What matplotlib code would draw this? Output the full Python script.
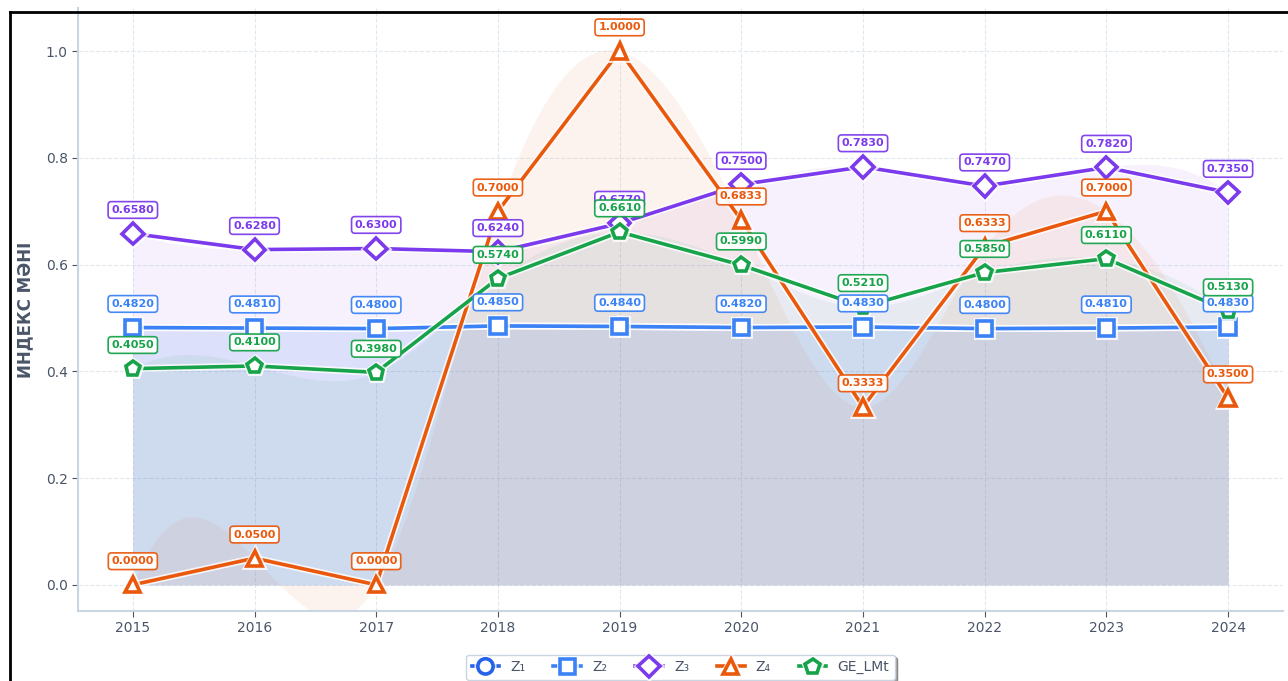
import numpy as np
import matplotlib
matplotlib.use('Agg')
import matplotlib.pyplot as plt
import matplotlib.patheffects as pe
from matplotlib.lines import Line2D

years = [2015, 2016, 2017, 2018, 2019, 2020, 2021, 2022, 2023, 2024]
z1 = [0.482, 0.481, 0.480, 0.485, 0.484, 0.482, 0.483, 0.480, 0.481, 0.483]
z2 = [0.482, 0.481, 0.480, 0.485, 0.484, 0.482, 0.483, 0.480, 0.481, 0.483]
z3 = [0.658, 0.628, 0.630, 0.624, 0.677, 0.750, 0.783, 0.747, 0.782, 0.735]
z4 = [0.0, 0.05, 0.0, 0.70, 1.0, 0.6833, 0.3333, 0.6333, 0.70, 0.35]
ge = [0.405, 0.410, 0.398, 0.574, 0.661, 0.599, 0.521, 0.585, 0.611, 0.513]

names = ['Z₁', 'Z₂', 'Z₃', 'Z₄', 'GE_LMt']
colors = ['#2563eb', '#3b82f6', '#7c3aed', '#ea580c', '#16a34a']
markers = ['o', 's', 'D', '^', 'p']
show_labels = [False, True, True, True, True]


def smooth(x, y, xs):
    # cubic spline with not-a-knot ends, only for the shaded areas
    x = np.asarray(x, float)
    y = np.asarray(y, float)
    n = len(x)
    h = np.diff(x)
    A = np.zeros((n, n))
    b = np.zeros(n)
    A[0, 0], A[0, 1], A[0, 2] = h[1], -(h[0] + h[1]), h[0]
    A[-1, -3], A[-1, -2], A[-1, -1] = h[-1], -(h[-2] + h[-1]), h[-2]
    for i in range(1, n - 1):
        A[i, i - 1] = h[i - 1]
        A[i, i] = 2 * (h[i - 1] + h[i])
        A[i, i + 1] = h[i]
        b[i] = 6 * ((y[i + 1] - y[i]) / h[i] - (y[i] - y[i - 1]) / h[i - 1])
    M = np.linalg.solve(A, b)
    idx = np.clip(np.searchsorted(x, xs) - 1, 0, n - 2)
    x0, x1 = x[idx], x[idx + 1]
    hh = x1 - x0
    t0 = x1 - xs
    t1 = xs - x0
    return (M[idx] * t0**3 / (6 * hh) + M[idx + 1] * t1**3 / (6 * hh)
            + (y[idx] / hh - M[idx] * hh / 6) * t0
            + (y[idx + 1] / hh - M[idx + 1] * hh / 6) * t1)


fig = plt.figure(figsize=(12.88, 6.81), dpi=100)
ax = fig.add_axes([0.0606, 0.1028, 0.9354, 0.885])

xs = np.linspace(years[0], years[-1], 400)
series = [z1, z2, z3, z4, ge]
for vals, c in zip(series, colors):
    ax.fill_between(xs, smooth(years, vals, xs), 0, color=c, alpha=0.065,
                    lw=0, zorder=1)

stroke = [pe.Stroke(linewidth=5, foreground='white', alpha=0.8), pe.Normal()]
for vals, c, m, name in zip(series, colors, markers, names):
    ax.plot(years, vals, color=c, lw=2.6, marker=m, ms=11,
            mfc='white', mec=c, mew=2.6, label=name, zorder=3,
            path_effects=stroke)

for vals, c, show in zip(series, colors, show_labels):
    if not show:
        continue
    for x, y in zip(years, vals):
        ax.annotate(f'{y:.4f}', (x, y), xytext=(0, 17), textcoords='offset points',
                    ha='center', va='center', fontsize=8, fontweight='bold',
                    color=c, zorder=6,
                    bbox=dict(boxstyle='round,pad=0.3', fc='white', ec=c, lw=1.2,
                              alpha=0.95))

ax.set_xlim(2014.55, 2024.45)
ax.set_ylim(-0.049, 1.08)
ax.set_xticks(years)
ax.set_yticks([0.0, 0.2, 0.4, 0.6, 0.8, 1.0])
ax.yaxis.set_major_formatter(matplotlib.ticker.FormatStrFormatter('%.1f'))
ax.tick_params(colors='#4a5568', labelsize=10, length=4)
ax.grid(True, ls='--', color='#e2e8f0', lw=0.8)
ax.set_axisbelow(True)
for s in ['top', 'right']:
    ax.spines[s].set_visible(False)
for s in ['left', 'bottom']:
    ax.spines[s].set_color('#cbd5e1')
    ax.spines[s].set_linewidth(1.5)

ax.set_ylabel('ИНДЕКС МӘНІ', fontsize=12, fontweight='bold', color='#4a5568',
              labelpad=8)

leg = ax.legend(loc='upper center', bbox_to_anchor=(0.5, -0.061), ncol=5,
                fontsize=10, frameon=True, fancybox=True, shadow=True,
                handlelength=2.0, columnspacing=2.0, borderpad=0.4)
leg.get_frame().set_edgecolor('#cbd5e1')
for t in leg.get_texts():
    t.set_color('#4a5568')

# screenshot border
fig.add_artist(Line2D([10 / 1288, 1], [1 - 12 / 681, 1 - 12 / 681],
                      transform=fig.transFigure, color='black', lw=2))
fig.add_artist(Line2D([10 / 1288, 10 / 1288], [0, 1 - 12 / 681],
                      transform=fig.transFigure, color='black', lw=2))

fig.savefig('out.png', dpi=100)
